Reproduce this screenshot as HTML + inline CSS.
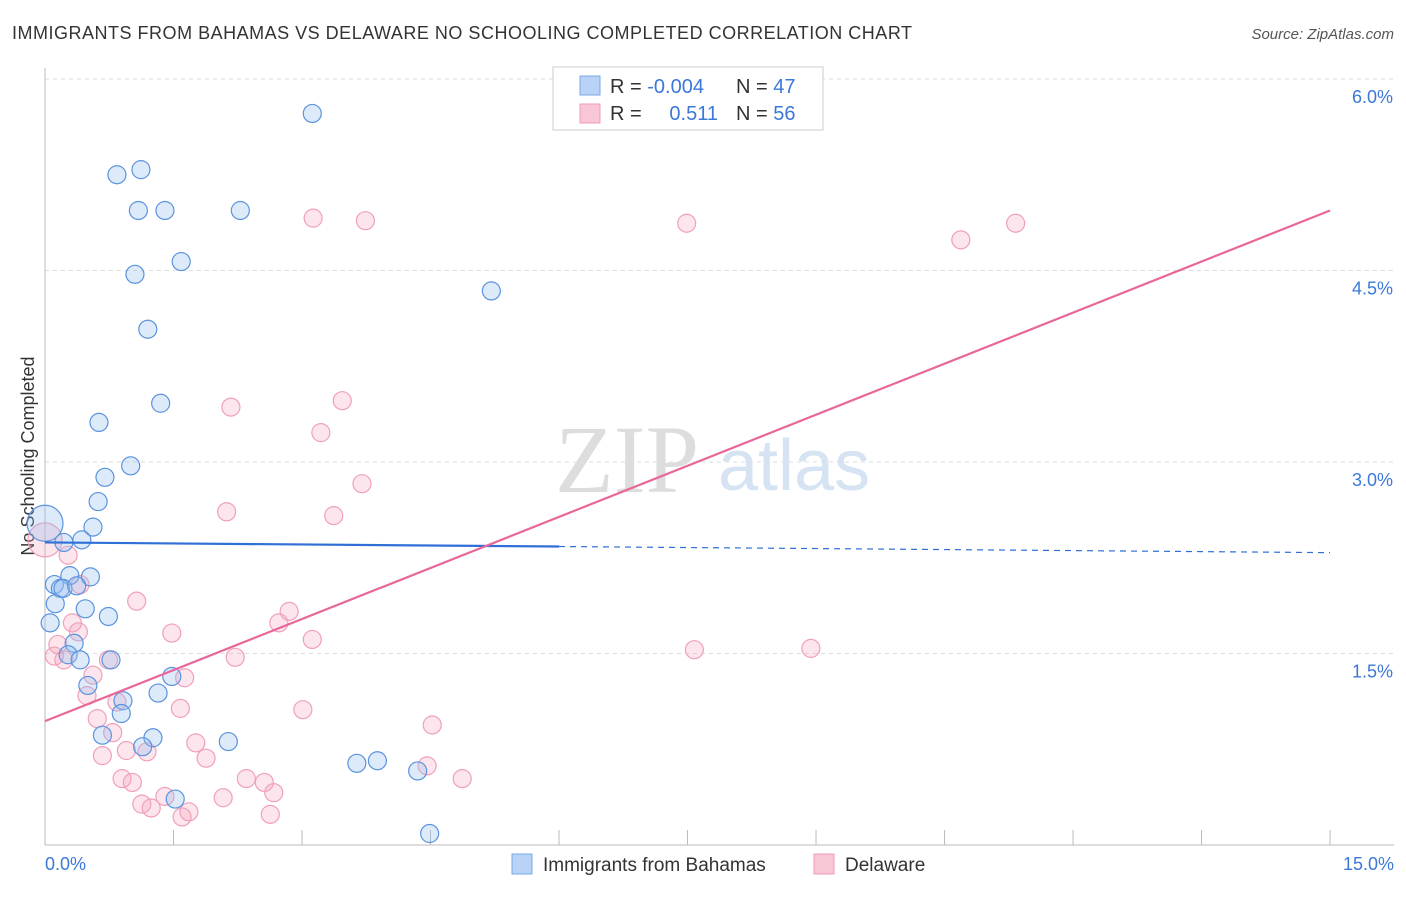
<!DOCTYPE html>
<html><head><meta charset="utf-8"><style>
body{margin:0;background:#fff;font-family:"Liberation Sans",sans-serif;}
</style></head><body>
<svg id="c" width="1406" height="892" xmlns="http://www.w3.org/2000/svg">
<text x="12" y="39" font-size="18" fill="#333" textLength="900" lengthAdjust="spacing">IMMIGRANTS FROM BAHAMAS VS DELAWARE NO SCHOOLING COMPLETED CORRELATION CHART</text>
<text x="1394" y="39" font-size="15" fill="#555" font-style="italic" text-anchor="end">Source: ZipAtlas.com</text>
<text x="34" y="456" font-size="18" fill="#333" text-anchor="middle" transform="rotate(-90 34 456)">No Schooling Completed</text>
<text x="555" y="492" font-size="96" fill="#ddd" font-family="Liberation Serif,serif">ZIP</text>
<text x="718" y="490" font-size="72" fill="#d5e3f3">atlas</text>
<g id="grid"></g><g id="pts"></g><g id="lines"></g>
<g>
<rect x="553" y="67" width="270" height="63" fill="#fff" stroke="#ccc"/>
<rect x="580" y="76" width="20" height="19" fill="#b8d3f5" stroke="#7aa8e6"/>
<rect x="580" y="104" width="20" height="19" fill="#f9c6d6" stroke="#ee9bb5"/>
<text x="610" y="93" font-size="20" fill="#333">R = <tspan fill="#3b78d8">-0.004</tspan></text>
<text x="736" y="93" font-size="20" fill="#333">N = <tspan fill="#3b78d8">47</tspan></text>
<text x="610" y="120" font-size="20" fill="#333">R = </text>
<text x="718" y="120" font-size="20" fill="#3b78d8" text-anchor="end">0.511</text>
<text x="736" y="120" font-size="20" fill="#333">N = <tspan fill="#3b78d8">56</tspan></text>
</g>
<g>
<rect x="512" y="854" width="20" height="20" fill="#b8d3f5" stroke="#7aa8e6"/>
<text x="543" y="871" font-size="19" fill="#333">Immigrants from Bahamas</text>
<rect x="814" y="854" width="20" height="20" fill="#f9c6d6" stroke="#ee9bb5"/>
<text x="845" y="871" font-size="19" fill="#333">Delaware</text>
</g>
</svg>
<script>
const bX=[3.12,0.84,1.12,1.09,1.40,2.28,1.05,1.59,5.21,1.20,1.35,0.63,1.00,0.70,0.62,0.56,0.43,0.22,0.00,0.29,0.53,0.11,0.18,0.21,0.37,0.12,0.47,0.74,0.34,0.06,0.27,0.41,0.77,0.50,0.91,1.32,1.48,0.89,0.67,1.26,1.14,2.14,3.64,3.88,4.35,1.52,4.49];
const bY=[5.73,5.25,5.29,4.97,4.97,4.97,4.47,4.57,4.34,4.04,3.46,3.31,2.97,2.88,2.69,2.49,2.39,2.37,2.52,2.11,2.10,2.04,2.01,2.01,2.03,1.89,1.85,1.79,1.58,1.74,1.49,1.45,1.45,1.25,1.13,1.19,1.32,1.03,0.86,0.84,0.77,0.81,0.64,0.66,0.58,0.36,0.09];
const pX=[3.13,3.74,7.49,10.69,11.33,2.17,3.47,3.22,3.70,2.12,3.37,0,0.27,0.41,1.07,2.85,2.73,0.32,0.39,1.48,3.12,0.15,0.11,0.22,0.74,2.22,7.58,8.94,0.56,1.63,0.49,0.84,1.58,3.01,0.61,4.52,0.79,0.67,0.95,1.19,1.76,1.88,0.90,1.02,2.35,2.56,4.46,4.87,1.40,1.13,1.24,2.08,2.67,1.60,1.68,2.63];
const pY=[4.91,4.89,4.87,4.74,4.87,3.43,3.48,3.23,2.83,2.61,2.58,2.39,2.27,2.04,1.91,1.83,1.74,1.74,1.67,1.66,1.61,1.57,1.48,1.45,1.45,1.47,1.53,1.54,1.33,1.31,1.17,1.12,1.07,1.06,0.99,0.94,0.88,0.70,0.74,0.73,0.80,0.68,0.52,0.49,0.52,0.49,0.62,0.52,0.38,0.32,0.29,0.37,0.41,0.22,0.26,0.24];
const yTicks=[1.5,3.0,4.5,6.0];
const yTickLabels=["1.5%","3.0%","4.5%","6.0%"];
const xTicks=[0,1.5,3,4.5,6,7.5,9,10.5,12,13.5,15];
const blueTrend=[2.37,2.29];
const pinkTrend=[0.97,4.97];
const NS="http://www.w3.org/2000/svg";
const sx=v=>45+v*85.67, sy=v=>845-v*127.67;
function mk(tag,attrs,parent){const e=document.createElementNS(NS,tag);for(const k in attrs)e.setAttribute(k,attrs[k]);parent.appendChild(e);return e;}
const g=document.getElementById('grid');
yTicks.forEach((t,i)=>{
 const l=mk('line',{x1:45,x2:1394,y1:sy(t),y2:sy(t),stroke:'#ddd','stroke-dasharray':'4,4'},g);
 
 
 const tx=mk('text',{x:1393,y:sy(t)+24,'font-size':18,fill:'#3b78d8','text-anchor':'end'},g);
 tx.textContent=yTickLabels[i];
 
 
});
const ax=mk('line',{x1:45,x2:45,y1:68,y2:845,stroke:'#bbb'},g);


const bx=mk('line',{x1:45,x2:1394,y1:845,y2:845,stroke:'#bbb'},g);


xTicks.forEach(t=>{
 const l=mk('line',{x1:sx(t),x2:sx(t),y1:830,y2:845,stroke:'#bbb'},g);
 
 
});
const x0=mk('text',{x:45,y:870,'font-size':18,fill:'#3b78d8'},g);x0.textContent='0.0%';


const x1=mk('text',{x:1394,y:870,'font-size':18,fill:'#3b78d8','text-anchor':'end'},g);x1.textContent='15.0%';


const P=document.getElementById('pts');
pX.forEach((x,i)=>{
 const c=mk('circle',{cx:sx(x),cy:sy(pY[i]),r:x===0?17:9,fill:'rgba(245,160,188,0.28)',stroke:'#f0a0ba','stroke-width':1.2},P);
 
 
});
bX.forEach((x,i)=>{
 const c=mk('circle',{cx:sx(x),cy:sy(bY[i]),r:x===0?18:9,fill:'rgba(150,190,240,0.32)',stroke:'#5b93dd','stroke-width':1.2},P);
 
 
});
const L=document.getElementById('lines');
const by=x=>blueTrend[0]+(blueTrend[1]-blueTrend[0])*x/15;
const l1=mk('line',{x1:sx(0),y1:sy(by(0)),x2:sx(6),y2:sy(by(6)),stroke:'#2f6fd6','stroke-width':2.2},L);


const l2=mk('line',{x1:sx(6),y1:sy(by(6)),x2:sx(15),y2:sy(by(15)),stroke:'#2f6fd6','stroke-width':1.2,'stroke-dasharray':'6,5'},L);


const l3=mk('line',{x1:sx(0),y1:sy(pinkTrend[0]),x2:sx(15),y2:sy(pinkTrend[1]),stroke:'#e8679a','stroke-width':2.2},L);


</script>
</body></html>
